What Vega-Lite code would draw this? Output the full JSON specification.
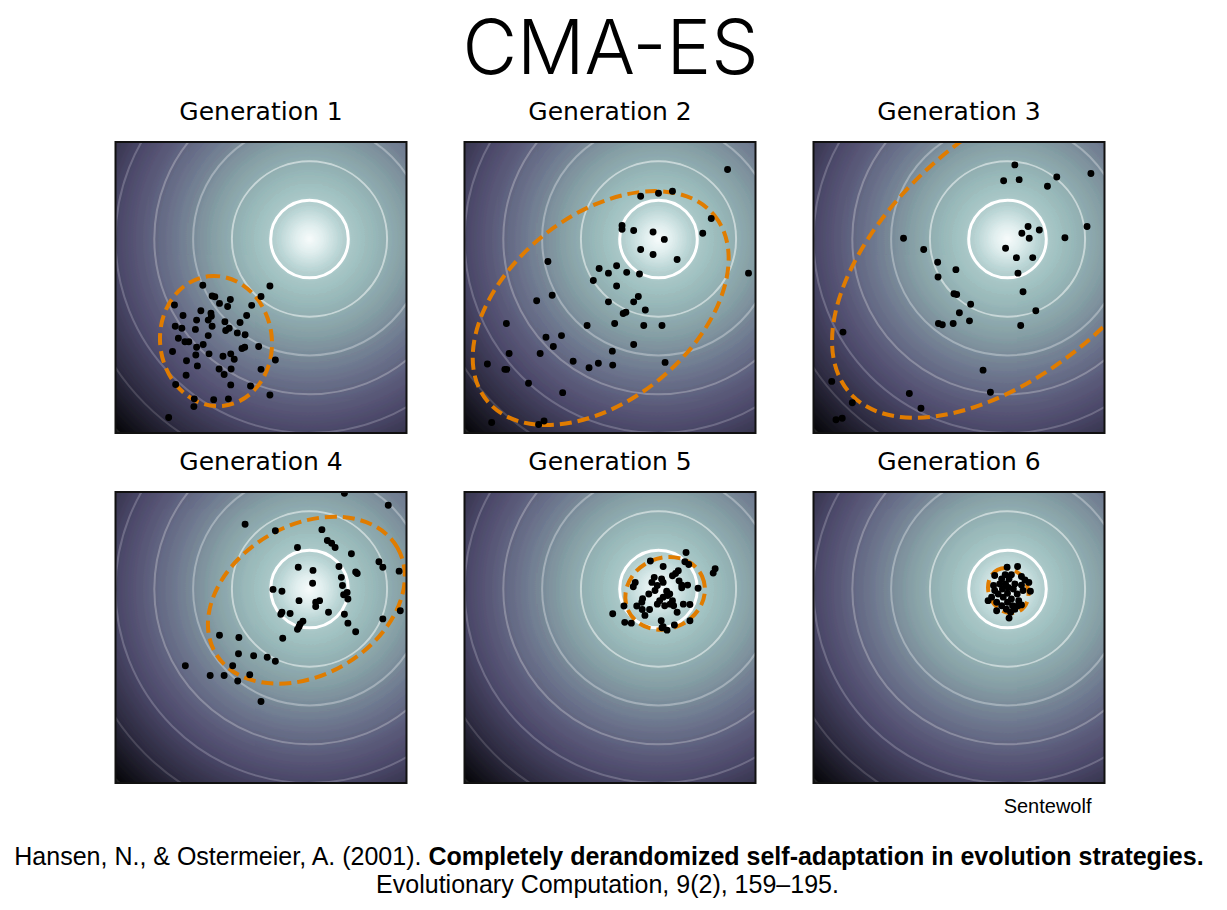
{
"$schema": "https://vega.github.io/schema/vega-lite/v6.json",
"autosize": {"type": "pad"},
"padding": {"left": 10, "top": 14, "right": 16, "bottom": 5},
"background": "white",
"title": {"text": "CMA-ES", "font": "Inter", "fontSize": 75, "fontWeight": 300, "anchor": "middle", "baseline": "alphabetic", "offset": -49, "color": "black"},
"datasets": {
"rings": [{"radius":1},{"radius":2},{"radius":3},{"radius":4},{"radius":5},{"radius":6},{"radius":7}],
"p1": [{"x":-2.75,"y":-1.19},{"x":-1.02,"y":-1.21},{"x":-1.25,"y":-1.48},{"x":-2.51,"y":-1.47},{"x":-2.44,"y":-1.49},{"x":-2.04,"y":-1.56},{"x":-2.32,"y":-1.66},{"x":-2.11,"y":-1.74},{"x":-3.48,"y":-1.70},{"x":-1.49,"y":-1.71},{"x":-2.80,"y":-1.85},{"x":-2.54,"y":-1.91},{"x":-3.26,"y":-1.97},{"x":-1.62,"y":-1.97},{"x":-2.53,"y":-1.99},{"x":-2.61,"y":-2.09},{"x":-2.91,"y":-2.09},{"x":-2.18,"y":-2.13},{"x":-1.79,"y":-2.15},{"x":-3.46,"y":-2.25},{"x":-3.29,"y":-2.30},{"x":-2.51,"y":-2.25},{"x":-2.94,"y":-2.33},{"x":-2.07,"y":-2.30},{"x":-2.16,"y":-2.36},{"x":-1.86,"y":-2.42},{"x":-1.66,"y":-2.47},{"x":-2.61,"y":-2.49},{"x":-3.38,"y":-2.56},{"x":-3.21,"y":-2.65},{"x":-3.11,"y":-2.65},{"x":-2.74,"y":-2.72},{"x":-2.91,"y":-2.79},{"x":-1.74,"y":-2.82},{"x":-1.67,"y":-2.79},{"x":-1.31,"y":-2.77},{"x":-3.53,"y":-2.90},{"x":-2.59,"y":-2.96},{"x":-2.93,"y":-2.99},{"x":-2.23,"y":-3.02},{"x":-2.03,"y":-2.96},{"x":-1.94,"y":-3.10},{"x":-0.88,"y":-3.12},{"x":-3.17,"y":-3.14},{"x":-2.89,"y":-3.27},{"x":-2.33,"y":-3.35},{"x":-2.02,"y":-3.35},{"x":-1.25,"y":-3.36},{"x":-2.20,"y":-3.49},{"x":-3.18,"y":-3.51},{"x":-3.45,"y":-3.75},{"x":-2.03,"y":-3.76},{"x":-1.52,"y":-3.79},{"x":-1.02,"y":-4.02},{"x":-2.97,"y":-4.12},{"x":-2.47,"y":-4.14},{"x":-2.09,"y":-4.12},{"x":-2.98,"y":-4.32},{"x":-3.63,"y":-4.60}],
"p2": [{"x":1.78,"y":1.79},{"x":-0.46,"y":1.10},{"x":0.00,"y":1.18},{"x":0.36,"y":1.23},{"x":1.36,"y":0.53},{"x":-0.94,"y":0.35},{"x":-0.94,"y":0.25},{"x":-0.64,"y":0.22},{"x":-0.14,"y":0.18},{"x":0.15,"y":-0.01},{"x":1.14,"y":0.15},{"x":-0.46,"y":-0.27},{"x":-0.14,"y":-0.40},{"x":0.48,"y":-0.53},{"x":-2.85,"y":-0.58},{"x":-1.53,"y":-0.76},{"x":-1.08,"y":-0.69},{"x":-1.29,"y":-0.88},{"x":-0.82,"y":-0.86},{"x":-0.49,"y":-0.90},{"x":2.32,"y":-0.88},{"x":-1.68,"y":-1.07},{"x":-1.08,"y":-1.21},{"x":-2.74,"y":-1.45},{"x":-3.14,"y":-1.59},{"x":-1.29,"y":-1.62},{"x":-0.52,"y":-1.48},{"x":-0.64,"y":-1.62},{"x":-0.34,"y":-1.83},{"x":-0.91,"y":-1.92},{"x":-0.84,"y":-1.89},{"x":-3.92,"y":-2.18},{"x":-1.84,"y":-2.23},{"x":-1.13,"y":-2.18},{"x":-0.38,"y":-2.23},{"x":0.09,"y":-2.23},{"x":-2.50,"y":-2.49},{"x":-2.90,"y":-2.53},{"x":-2.71,"y":-2.77},{"x":-0.64,"y":-2.72},{"x":-3.85,"y":-2.95},{"x":-3.05,"y":-2.95},{"x":-1.19,"y":-2.89},{"x":-4.41,"y":-3.22},{"x":-2.20,"y":-3.15},{"x":-1.55,"y":-3.20},{"x":-1.79,"y":-3.32},{"x":-1.18,"y":-3.25},{"x":0.17,"y":-3.18},{"x":-3.96,"y":-3.36},{"x":-3.91,"y":-3.36},{"x":-3.35,"y":-3.72},{"x":-2.47,"y":-3.96},{"x":-4.30,"y":-4.73},{"x":-3.09,"y":-4.78},{"x":-2.95,"y":-4.69}],
"p3": [{"x":0.19,"y":1.91},{"x":-0.10,"y":1.50},{"x":0.30,"y":1.53},{"x":1.27,"y":1.60},{"x":1.03,"y":1.36},{"x":2.15,"y":1.69},{"x":0.53,"y":0.32},{"x":0.37,"y":0.15},{"x":0.82,"y":0.23},{"x":0.56,"y":0.02},{"x":2.05,"y":0.32},{"x":1.48,"y":0.03},{"x":-2.68,"y":0.02},{"x":-2.16,"y":-0.27},{"x":-0.05,"y":-0.24},{"x":0.23,"y":-0.48},{"x":0.65,"y":-0.48},{"x":-1.80,"y":-0.60},{"x":-1.33,"y":-0.79},{"x":-1.79,"y":-0.98},{"x":0.27,"y":-0.88},{"x":0.40,"y":-1.36},{"x":-1.38,"y":-1.41},{"x":-1.31,"y":-1.43},{"x":-0.95,"y":-1.68},{"x":0.73,"y":-1.85},{"x":-1.24,"y":-1.90},{"x":-0.98,"y":-2.11},{"x":-1.78,"y":-2.18},{"x":-1.68,"y":-2.21},{"x":-1.40,"y":-2.18},{"x":0.34,"y":-2.23},{"x":-4.24,"y":-2.40},{"x":-0.63,"y":-3.38},{"x":-4.53,"y":-3.67},{"x":-2.53,"y":-3.98},{"x":-0.44,"y":-3.95},{"x":-4.00,"y":-4.22},{"x":-2.23,"y":-4.36},{"x":-4.42,"y":-4.66},{"x":-4.26,"y":-4.62}],
"p4": [{"x":0.90,"y":2.47},{"x":2.03,"y":2.16},{"x":-1.66,"y":1.67},{"x":-0.88,"y":1.50},{"x":0.32,"y":1.53},{"x":0.46,"y":1.25},{"x":0.57,"y":1.18},{"x":0.66,"y":1.07},{"x":-0.31,"y":1.07},{"x":1.08,"y":0.91},{"x":1.79,"y":0.70},{"x":1.89,"y":0.56},{"x":2.31,"y":0.46},{"x":-0.29,"y":0.56},{"x":0.09,"y":0.48},{"x":0.76,"y":0.58},{"x":1.19,"y":0.44},{"x":1.23,"y":0.40},{"x":0.82,"y":0.30},{"x":0.08,"y":0.15},{"x":0.85,"y":0.09},{"x":-0.94,"y":-0.01},{"x":-0.71,"y":-0.06},{"x":0.97,"y":-0.09},{"x":0.88,"y":-0.15},{"x":0.99,"y":-0.26},{"x":-0.27,"y":-0.30},{"x":0.16,"y":-0.34},{"x":0.26,"y":-0.30},{"x":0.16,"y":-0.45},{"x":0.49,"y":-0.60},{"x":2.34,"y":-0.56},{"x":-0.71,"y":-0.60},{"x":-0.74,"y":-0.65},{"x":-0.50,"y":-0.63},{"x":0.90,"y":-0.65},{"x":1.89,"y":-0.77},{"x":-0.17,"y":-0.83},{"x":-0.24,"y":-0.90},{"x":-0.27,"y":-0.97},{"x":-0.31,"y":-1.04},{"x":0.99,"y":-0.88},{"x":1.19,"y":-1.10},{"x":-2.32,"y":-1.19},{"x":-1.82,"y":-1.25},{"x":-0.69,"y":-1.27},{"x":-1.83,"y":-1.67},{"x":-1.44,"y":-1.72},{"x":-1.09,"y":-1.76},{"x":-0.88,"y":-1.86},{"x":-3.20,"y":-1.98},{"x":-1.98,"y":-1.98},{"x":-2.56,"y":-2.23},{"x":-2.20,"y":-2.23},{"x":-1.54,"y":-2.21},{"x":-1.85,"y":-2.37},{"x":-1.25,"y":-2.90}],
"p5": [{"x":0.71,"y":0.94},{"x":-0.21,"y":0.72},{"x":0.68,"y":0.70},{"x":0.78,"y":0.63},{"x":0.12,"y":0.58},{"x":1.46,"y":0.52},{"x":1.41,"y":0.41},{"x":0.51,"y":0.47},{"x":0.44,"y":0.40},{"x":0.36,"y":0.34},{"x":-0.60,"y":0.17},{"x":-0.65,"y":0.06},{"x":-0.11,"y":0.30},{"x":0.08,"y":0.26},{"x":-0.17,"y":0.17},{"x":0.12,"y":0.17},{"x":-0.03,"y":0.09},{"x":0.53,"y":0.21},{"x":0.60,"y":0.10},{"x":0.75,"y":0.10},{"x":0.60,"y":0.03},{"x":1.02,"y":0.02},{"x":-0.09,"y":-0.04},{"x":-0.25,"y":-0.13},{"x":0.21,"y":-0.06},{"x":0.29,"y":-0.13},{"x":0.24,"y":-0.17},{"x":0.12,"y":-0.21},{"x":-0.41,"y":-0.25},{"x":-0.43,"y":-0.34},{"x":0.03,"y":-0.30},{"x":-0.03,"y":-0.39},{"x":0.36,"y":-0.30},{"x":0.30,"y":-0.39},{"x":0.39,"y":-0.43},{"x":0.16,"y":-0.43},{"x":0.64,"y":-0.39},{"x":0.81,"y":-0.40},{"x":-0.89,"y":-0.44},{"x":-0.56,"y":-0.44},{"x":-0.42,"y":-0.53},{"x":-0.23,"y":-0.53},{"x":-0.35,"y":-0.68},{"x":0.48,"y":-0.60},{"x":-1.18,"y":-0.64},{"x":-0.87,"y":-0.86},{"x":-0.70,"y":-0.88},{"x":0.07,"y":-0.82},{"x":0.81,"y":-0.82},{"x":0.41,"y":-0.93},{"x":0.12,"y":-0.97},{"x":0.22,"y":-1.06},{"x":0.09,"y":-1.00}],
"p6": [{"x":-0.01,"y":0.56},{"x":0.26,"y":0.58},{"x":-0.33,"y":0.35},{"x":-0.06,"y":0.37},{"x":0.10,"y":0.37},{"x":0.36,"y":0.32},{"x":-0.15,"y":0.26},{"x":0.04,"y":0.26},{"x":0.45,"y":0.23},{"x":0.55,"y":0.17},{"x":-0.36,"y":0.09},{"x":-0.20,"y":0.13},{"x":-0.05,"y":0.13},{"x":0.19,"y":0.13},{"x":0.36,"y":0.10},{"x":0.02,"y":0.04},{"x":0.15,"y":0.00},{"x":-0.33,"y":-0.04},{"x":-0.13,"y":0.00},{"x":0.40,"y":-0.04},{"x":0.59,"y":-0.06},{"x":-0.24,"y":-0.13},{"x":0.00,"y":-0.11},{"x":0.25,"y":-0.13},{"x":-0.41,"y":-0.21},{"x":-0.11,"y":-0.21},{"x":0.10,"y":-0.26},{"x":-0.50,"y":-0.30},{"x":-0.28,"y":-0.34},{"x":0.00,"y":-0.34},{"x":0.29,"y":-0.30},{"x":-0.15,"y":-0.43},{"x":0.13,"y":-0.43},{"x":0.27,"y":-0.43},{"x":-0.03,"y":-0.52},{"x":-0.28,"y":-0.56},{"x":0.08,"y":-0.60},{"x":0.04,"y":-0.75},{"x":0.36,"y":-0.41},{"x":0.19,"y":-0.52}]
},
"vconcat": [
{"hconcat": [
{"width": 291, "height": 291, "title": "Generation 1", "layer": [
{"data": {"values": [{}]}, "mark": {"type": "rect", "fill": {"gradient":"radial","x1":0.6667,"y1":0.3333,"r1":0,"x2":0.6667,"y2":0.3333,"r2":0.943,"stops":[{"offset":0,"color":"#f7fbfb"},{"offset":0.05,"color":"#e0eeee"},{"offset":0.11,"color":"#bcd6d6"},{"offset":0.16,"color":"#a8c6c6"},{"offset":0.21,"color":"#9ebebe"},{"offset":0.354,"color":"#87a0a6"},{"offset":0.495,"color":"#6f788f"},{"offset":0.636,"color":"#585676"},{"offset":0.707,"color":"#4b4868"},{"offset":0.85,"color":"#2c2a3e"},{"offset":1,"color":"#060608"}]}},
 "encoding": {"x": {"datum": -5, "type": "quantitative", "scale": {"domain": [-5, 2.5], "nice": false, "zero": false}, "axis": null}, "x2": {"datum": 2.5}, "y": {"datum": -5, "type": "quantitative", "scale": {"domain": [-5, 2.5], "nice": false, "zero": false}, "axis": null}, "y2": {"datum": 2.5}}},
{"data": {"name": "rings"}, "mark": {"type": "point", "shape": "circle", "filled": false, "stroke": "white", "clip": true},
 "encoding": {"x": {"datum": 0, "type": "quantitative"}, "y": {"datum": 0, "type": "quantitative"}, "size": {"field": "radius", "type": "quantitative", "scale": {"type": "pow", "exponent": 2, "domain": [0, 7], "range": [0, 295066]}, "legend": null}, "opacity": {"field": "radius", "type": "quantitative", "scale": {"domain": [1, 2, 3, 7], "range": [1, 0.5, 0.3, 0.1]}, "legend": null}, "strokeWidth": {"field": "radius", "type": "quantitative", "scale": {"type": "threshold", "domain": [1.5], "range": [3, 2]}, "legend": null}}},
{"data": {"values": [{"cx": -2.41, "cy": -2.63, "radius": 1.68, "angle": 97}]}, "mark": {"type": "point", "shape": "M 1 0 C 1 0.473 0.552 0.857 0 0.857 C -0.552 0.857 -1 0.473 -1 0 C -1 -0.473 -0.552 -0.857 0 -0.857 C 0.552 -0.857 1 -0.473 1 0 Z", "filled": false, "stroke": "#e07c00", "strokeWidth": 4, "strokeDash": [12, 6], "opacity": 1, "clip": true},
 "encoding": {"x": {"field": "cx", "type": "quantitative"}, "y": {"field": "cy", "type": "quantitative"}, "size": {"field": "radius", "type": "quantitative", "scale": {"type": "pow", "exponent": 2, "domain": [0, 7], "range": [0, 295066]}, "legend": null}, "angle": {"field": "angle", "type": "quantitative", "scale": {"domain": [0, 360], "range": [360, 0]}, "legend": null}}},
{"data": {"name": "p1"}, "mark": {"type": "point", "shape": "circle", "filled": true, "color": "black", "size": 48, "opacity": 1, "clip": true},
 "encoding": {"x": {"field": "x", "type": "quantitative"}, "y": {"field": "y", "type": "quantitative"}}},
{"data": {"values": [{}]}, "mark": {"type": "rect", "fill": null, "stroke": "#111111", "strokeWidth": 2},
 "encoding": {"x": {"datum": -5, "type": "quantitative"}, "x2": {"datum": 2.5}, "y": {"datum": -5, "type": "quantitative"}, "y2": {"datum": 2.5}}}
]},
{"width": 291, "height": 291, "title": "Generation 2", "layer": [
{"data": {"values": [{}]}, "mark": {"type": "rect", "fill": {"gradient":"radial","x1":0.6667,"y1":0.3333,"r1":0,"x2":0.6667,"y2":0.3333,"r2":0.943,"stops":[{"offset":0,"color":"#f7fbfb"},{"offset":0.05,"color":"#e0eeee"},{"offset":0.11,"color":"#bcd6d6"},{"offset":0.16,"color":"#a8c6c6"},{"offset":0.21,"color":"#9ebebe"},{"offset":0.354,"color":"#87a0a6"},{"offset":0.495,"color":"#6f788f"},{"offset":0.636,"color":"#585676"},{"offset":0.707,"color":"#4b4868"},{"offset":0.85,"color":"#2c2a3e"},{"offset":1,"color":"#060608"}]}},
 "encoding": {"x": {"datum": -5, "type": "quantitative", "scale": {"domain": [-5, 2.5], "nice": false, "zero": false}, "axis": null}, "x2": {"datum": 2.5}, "y": {"datum": -5, "type": "quantitative", "scale": {"domain": [-5, 2.5], "nice": false, "zero": false}, "axis": null}, "y2": {"datum": 2.5}}},
{"data": {"name": "rings"}, "mark": {"type": "point", "shape": "circle", "filled": false, "stroke": "white", "clip": true},
 "encoding": {"x": {"datum": 0, "type": "quantitative"}, "y": {"datum": 0, "type": "quantitative"}, "size": {"field": "radius", "type": "quantitative", "scale": {"type": "pow", "exponent": 2, "domain": [0, 7], "range": [0, 295066]}, "legend": null}, "opacity": {"field": "radius", "type": "quantitative", "scale": {"domain": [1, 2, 3, 7], "range": [1, 0.5, 0.3, 0.1]}, "legend": null}, "strokeWidth": {"field": "radius", "type": "quantitative", "scale": {"type": "threshold", "domain": [1.5], "range": [3, 2]}, "legend": null}}},
{"data": {"values": [{"cx": -1.49, "cy": -1.78, "radius": 3.78, "angle": 39}]}, "mark": {"type": "point", "shape": "M 1 0 C 1 0.348 0.552 0.63 0 0.63 C -0.552 0.63 -1 0.348 -1 0 C -1 -0.348 -0.552 -0.63 0 -0.63 C 0.552 -0.63 1 -0.348 1 0 Z", "filled": false, "stroke": "#e07c00", "strokeWidth": 4, "strokeDash": [12, 6], "opacity": 1, "clip": true},
 "encoding": {"x": {"field": "cx", "type": "quantitative"}, "y": {"field": "cy", "type": "quantitative"}, "size": {"field": "radius", "type": "quantitative", "scale": {"type": "pow", "exponent": 2, "domain": [0, 7], "range": [0, 295066]}, "legend": null}, "angle": {"field": "angle", "type": "quantitative", "scale": {"domain": [0, 360], "range": [360, 0]}, "legend": null}}},
{"data": {"name": "p2"}, "mark": {"type": "point", "shape": "circle", "filled": true, "color": "black", "size": 48, "opacity": 1, "clip": true},
 "encoding": {"x": {"field": "x", "type": "quantitative"}, "y": {"field": "y", "type": "quantitative"}}},
{"data": {"values": [{}]}, "mark": {"type": "rect", "fill": null, "stroke": "#111111", "strokeWidth": 2},
 "encoding": {"x": {"datum": -5, "type": "quantitative"}, "x2": {"datum": 2.5}, "y": {"datum": -5, "type": "quantitative"}, "y2": {"datum": 2.5}}}
]},
{"width": 291, "height": 291, "title": "Generation 3", "layer": [
{"data": {"values": [{}]}, "mark": {"type": "rect", "fill": {"gradient":"radial","x1":0.6667,"y1":0.3333,"r1":0,"x2":0.6667,"y2":0.3333,"r2":0.943,"stops":[{"offset":0,"color":"#f7fbfb"},{"offset":0.05,"color":"#e0eeee"},{"offset":0.11,"color":"#bcd6d6"},{"offset":0.16,"color":"#a8c6c6"},{"offset":0.21,"color":"#9ebebe"},{"offset":0.354,"color":"#87a0a6"},{"offset":0.495,"color":"#6f788f"},{"offset":0.636,"color":"#585676"},{"offset":0.707,"color":"#4b4868"},{"offset":0.85,"color":"#2c2a3e"},{"offset":1,"color":"#060608"}]}},
 "encoding": {"x": {"datum": -5, "type": "quantitative", "scale": {"domain": [-5, 2.5], "nice": false, "zero": false}, "axis": null}, "x2": {"datum": 2.5}, "y": {"datum": -5, "type": "quantitative", "scale": {"domain": [-5, 2.5], "nice": false, "zero": false}, "axis": null}, "y2": {"datum": 2.5}}},
{"data": {"name": "rings"}, "mark": {"type": "point", "shape": "circle", "filled": false, "stroke": "white", "clip": true},
 "encoding": {"x": {"datum": 0, "type": "quantitative"}, "y": {"datum": 0, "type": "quantitative"}, "size": {"field": "radius", "type": "quantitative", "scale": {"type": "pow", "exponent": 2, "domain": [0, 7], "range": [0, 295066]}, "legend": null}, "opacity": {"field": "radius", "type": "quantitative", "scale": {"domain": [1, 2, 3, 7], "range": [1, 0.5, 0.3, 0.1]}, "legend": null}, "strokeWidth": {"field": "radius", "type": "quantitative", "scale": {"type": "threshold", "domain": [1.5], "range": [3, 2]}, "legend": null}}},
{"data": {"values": [{"cx": 0.15, "cy": -0.28, "radius": 5.6, "angle": 41}]}, "mark": {"type": "point", "shape": "M 1 0 C 1 0.299 0.552 0.541 0 0.541 C -0.552 0.541 -1 0.299 -1 0 C -1 -0.299 -0.552 -0.541 0 -0.541 C 0.552 -0.541 1 -0.299 1 0 Z", "filled": false, "stroke": "#e07c00", "strokeWidth": 4, "strokeDash": [12, 6], "opacity": 1, "clip": true},
 "encoding": {"x": {"field": "cx", "type": "quantitative"}, "y": {"field": "cy", "type": "quantitative"}, "size": {"field": "radius", "type": "quantitative", "scale": {"type": "pow", "exponent": 2, "domain": [0, 7], "range": [0, 295066]}, "legend": null}, "angle": {"field": "angle", "type": "quantitative", "scale": {"domain": [0, 360], "range": [360, 0]}, "legend": null}}},
{"data": {"name": "p3"}, "mark": {"type": "point", "shape": "circle", "filled": true, "color": "black", "size": 48, "opacity": 1, "clip": true},
 "encoding": {"x": {"field": "x", "type": "quantitative"}, "y": {"field": "y", "type": "quantitative"}}},
{"data": {"values": [{}]}, "mark": {"type": "rect", "fill": null, "stroke": "#111111", "strokeWidth": 2},
 "encoding": {"x": {"datum": -5, "type": "quantitative"}, "x2": {"datum": 2.5}, "y": {"datum": -5, "type": "quantitative"}, "y2": {"datum": 2.5}}}
]}
], "spacing": 56},
{"hconcat": [
{"width": 291, "height": 291, "title": "Generation 4", "layer": [
{"data": {"values": [{}]}, "mark": {"type": "rect", "fill": {"gradient":"radial","x1":0.6667,"y1":0.3333,"r1":0,"x2":0.6667,"y2":0.3333,"r2":0.943,"stops":[{"offset":0,"color":"#f7fbfb"},{"offset":0.05,"color":"#e0eeee"},{"offset":0.11,"color":"#bcd6d6"},{"offset":0.16,"color":"#a8c6c6"},{"offset":0.21,"color":"#9ebebe"},{"offset":0.354,"color":"#87a0a6"},{"offset":0.495,"color":"#6f788f"},{"offset":0.636,"color":"#585676"},{"offset":0.707,"color":"#4b4868"},{"offset":0.85,"color":"#2c2a3e"},{"offset":1,"color":"#060608"}]}},
 "encoding": {"x": {"datum": -5, "type": "quantitative", "scale": {"domain": [-5, 2.5], "nice": false, "zero": false}, "axis": null}, "x2": {"datum": 2.5}, "y": {"datum": -5, "type": "quantitative", "scale": {"domain": [-5, 2.5], "nice": false, "zero": false}, "axis": null}, "y2": {"datum": 2.5}}},
{"data": {"name": "rings"}, "mark": {"type": "point", "shape": "circle", "filled": false, "stroke": "white", "clip": true},
 "encoding": {"x": {"datum": 0, "type": "quantitative"}, "y": {"datum": 0, "type": "quantitative"}, "size": {"field": "radius", "type": "quantitative", "scale": {"type": "pow", "exponent": 2, "domain": [0, 7], "range": [0, 295066]}, "legend": null}, "opacity": {"field": "radius", "type": "quantitative", "scale": {"domain": [1, 2, 3, 7], "range": [1, 0.5, 0.3, 0.1]}, "legend": null}, "strokeWidth": {"field": "radius", "type": "quantitative", "scale": {"type": "threshold", "domain": [1.5], "range": [3, 2]}, "legend": null}}},
{"data": {"values": [{"cx": -0.08, "cy": -0.29, "radius": 2.71, "angle": 30}]}, "mark": {"type": "point", "shape": "M 1 0 C 1 0.393 0.552 0.712 0 0.712 C -0.552 0.712 -1 0.393 -1 0 C -1 -0.393 -0.552 -0.712 0 -0.712 C 0.552 -0.712 1 -0.393 1 0 Z", "filled": false, "stroke": "#e07c00", "strokeWidth": 4, "strokeDash": [12, 6], "opacity": 1, "clip": true},
 "encoding": {"x": {"field": "cx", "type": "quantitative"}, "y": {"field": "cy", "type": "quantitative"}, "size": {"field": "radius", "type": "quantitative", "scale": {"type": "pow", "exponent": 2, "domain": [0, 7], "range": [0, 295066]}, "legend": null}, "angle": {"field": "angle", "type": "quantitative", "scale": {"domain": [0, 360], "range": [360, 0]}, "legend": null}}},
{"data": {"name": "p4"}, "mark": {"type": "point", "shape": "circle", "filled": true, "color": "black", "size": 48, "opacity": 1, "clip": true},
 "encoding": {"x": {"field": "x", "type": "quantitative"}, "y": {"field": "y", "type": "quantitative"}}},
{"data": {"values": [{}]}, "mark": {"type": "rect", "fill": null, "stroke": "#111111", "strokeWidth": 2},
 "encoding": {"x": {"datum": -5, "type": "quantitative"}, "x2": {"datum": 2.5}, "y": {"datum": -5, "type": "quantitative"}, "y2": {"datum": 2.5}}}
]},
{"width": 291, "height": 291, "title": "Generation 5", "layer": [
{"data": {"values": [{}]}, "mark": {"type": "rect", "fill": {"gradient":"radial","x1":0.6667,"y1":0.3333,"r1":0,"x2":0.6667,"y2":0.3333,"r2":0.943,"stops":[{"offset":0,"color":"#f7fbfb"},{"offset":0.05,"color":"#e0eeee"},{"offset":0.11,"color":"#bcd6d6"},{"offset":0.16,"color":"#a8c6c6"},{"offset":0.21,"color":"#9ebebe"},{"offset":0.354,"color":"#87a0a6"},{"offset":0.495,"color":"#6f788f"},{"offset":0.636,"color":"#585676"},{"offset":0.707,"color":"#4b4868"},{"offset":0.85,"color":"#2c2a3e"},{"offset":1,"color":"#060608"}]}},
 "encoding": {"x": {"datum": -5, "type": "quantitative", "scale": {"domain": [-5, 2.5], "nice": false, "zero": false}, "axis": null}, "x2": {"datum": 2.5}, "y": {"datum": -5, "type": "quantitative", "scale": {"domain": [-5, 2.5], "nice": false, "zero": false}, "axis": null}, "y2": {"datum": 2.5}}},
{"data": {"name": "rings"}, "mark": {"type": "point", "shape": "circle", "filled": false, "stroke": "white", "clip": true},
 "encoding": {"x": {"datum": 0, "type": "quantitative"}, "y": {"datum": 0, "type": "quantitative"}, "size": {"field": "radius", "type": "quantitative", "scale": {"type": "pow", "exponent": 2, "domain": [0, 7], "range": [0, 295066]}, "legend": null}, "opacity": {"field": "radius", "type": "quantitative", "scale": {"domain": [1, 2, 3, 7], "range": [1, 0.5, 0.3, 0.1]}, "legend": null}, "strokeWidth": {"field": "radius", "type": "quantitative", "scale": {"type": "threshold", "domain": [1.5], "range": [3, 2]}, "legend": null}}},
{"data": {"values": [{"cx": 0.17, "cy": -0.11, "radius": 1.05, "angle": 25}]}, "mark": {"type": "point", "shape": "M 1 0 C 1 0.479 0.552 0.867 0 0.867 C -0.552 0.867 -1 0.479 -1 0 C -1 -0.479 -0.552 -0.867 0 -0.867 C 0.552 -0.867 1 -0.479 1 0 Z", "filled": false, "stroke": "#e07c00", "strokeWidth": 4, "strokeDash": [12, 6], "opacity": 1, "clip": true},
 "encoding": {"x": {"field": "cx", "type": "quantitative"}, "y": {"field": "cy", "type": "quantitative"}, "size": {"field": "radius", "type": "quantitative", "scale": {"type": "pow", "exponent": 2, "domain": [0, 7], "range": [0, 295066]}, "legend": null}, "angle": {"field": "angle", "type": "quantitative", "scale": {"domain": [0, 360], "range": [360, 0]}, "legend": null}}},
{"data": {"name": "p5"}, "mark": {"type": "point", "shape": "circle", "filled": true, "color": "black", "size": 48, "opacity": 1, "clip": true},
 "encoding": {"x": {"field": "x", "type": "quantitative"}, "y": {"field": "y", "type": "quantitative"}}},
{"data": {"values": [{}]}, "mark": {"type": "rect", "fill": null, "stroke": "#111111", "strokeWidth": 2},
 "encoding": {"x": {"datum": -5, "type": "quantitative"}, "x2": {"datum": 2.5}, "y": {"datum": -5, "type": "quantitative"}, "y2": {"datum": 2.5}}}
]},
{"width": 291, "height": 291, "title": "Generation 6", "layer": [
{"data": {"values": [{}]}, "mark": {"type": "rect", "fill": {"gradient":"radial","x1":0.6667,"y1":0.3333,"r1":0,"x2":0.6667,"y2":0.3333,"r2":0.943,"stops":[{"offset":0,"color":"#f7fbfb"},{"offset":0.05,"color":"#e0eeee"},{"offset":0.11,"color":"#bcd6d6"},{"offset":0.16,"color":"#a8c6c6"},{"offset":0.21,"color":"#9ebebe"},{"offset":0.354,"color":"#87a0a6"},{"offset":0.495,"color":"#6f788f"},{"offset":0.636,"color":"#585676"},{"offset":0.707,"color":"#4b4868"},{"offset":0.85,"color":"#2c2a3e"},{"offset":1,"color":"#060608"}]}},
 "encoding": {"x": {"datum": -5, "type": "quantitative", "scale": {"domain": [-5, 2.5], "nice": false, "zero": false}, "axis": null}, "x2": {"datum": 2.5}, "y": {"datum": -5, "type": "quantitative", "scale": {"domain": [-5, 2.5], "nice": false, "zero": false}, "axis": null}, "y2": {"datum": 2.5}}},
{"data": {"name": "rings"}, "mark": {"type": "point", "shape": "circle", "filled": false, "stroke": "white", "clip": true},
 "encoding": {"x": {"datum": 0, "type": "quantitative"}, "y": {"datum": 0, "type": "quantitative"}, "size": {"field": "radius", "type": "quantitative", "scale": {"type": "pow", "exponent": 2, "domain": [0, 7], "range": [0, 295066]}, "legend": null}, "opacity": {"field": "radius", "type": "quantitative", "scale": {"domain": [1, 2, 3, 7], "range": [1, 0.5, 0.3, 0.1]}, "legend": null}, "strokeWidth": {"field": "radius", "type": "quantitative", "scale": {"type": "threshold", "domain": [1.5], "range": [3, 2]}, "legend": null}}},
{"data": {"values": [{"cx": 0.02, "cy": -0.04, "radius": 0.6, "angle": 117}]}, "mark": {"type": "point", "shape": "M 1 0 C 1 0.46 0.552 0.833 0 0.833 C -0.552 0.833 -1 0.46 -1 0 C -1 -0.46 -0.552 -0.833 0 -0.833 C 0.552 -0.833 1 -0.46 1 0 Z", "filled": false, "stroke": "#e07c00", "strokeWidth": 4, "strokeDash": [12, 6], "opacity": 1, "clip": true},
 "encoding": {"x": {"field": "cx", "type": "quantitative"}, "y": {"field": "cy", "type": "quantitative"}, "size": {"field": "radius", "type": "quantitative", "scale": {"type": "pow", "exponent": 2, "domain": [0, 7], "range": [0, 295066]}, "legend": null}, "angle": {"field": "angle", "type": "quantitative", "scale": {"domain": [0, 360], "range": [360, 0]}, "legend": null}}},
{"data": {"name": "p6"}, "mark": {"type": "point", "shape": "circle", "filled": true, "color": "black", "size": 48, "opacity": 1, "clip": true},
 "encoding": {"x": {"field": "x", "type": "quantitative"}, "y": {"field": "y", "type": "quantitative"}}},
{"data": {"values": [{}]}, "mark": {"type": "rect", "fill": null, "stroke": "#111111", "strokeWidth": 2},
 "encoding": {"x": {"datum": -5, "type": "quantitative"}, "x2": {"datum": 2.5}, "y": {"datum": -5, "type": "quantitative"}, "y2": {"datum": 2.5}}}
]}
], "spacing": 56, "title": {"text": "Sentewolf", "orient": "bottom", "anchor": "end", "font": "Liberation Sans", "fontSize": 20, "fontWeight": "normal", "baseline": "alphabetic", "offset": 29, "dx": -14, "color": "black"}},
{"width": 1201, "height": 70, "layer": [
{"data": {"values": [{"label": "Hansen, N., & Ostermeier, A. (2001)."}]}, "mark": {"type": "text", "font": "Liberation Sans", "fontSize": 25, "align": "right", "baseline": "alphabetic", "dx": -3.5, "color": "black"},
 "encoding": {"text": {"field": "label"}, "x": {"datum": 0.3455, "type": "quantitative", "scale": {"domain": [0, 1]}, "axis": null}, "y": {"datum": 0.543, "type": "quantitative", "scale": {"domain": [0, 1]}, "axis": null}}},
{"data": {"values": [{"label": "Completely derandomized self-adaptation in evolution strategies."}]}, "mark": {"type": "text", "font": "Liberation Sans", "fontSize": 25, "fontWeight": "bold", "align": "left", "baseline": "alphabetic", "dx": 3.5, "color": "black"},
 "encoding": {"text": {"field": "label"}, "x": {"datum": 0.3455, "type": "quantitative"}, "y": {"datum": 0.543, "type": "quantitative"}}},
{"data": {"values": [{"label": "Evolutionary Computation, 9(2), 159–195."}]}, "mark": {"type": "text", "font": "Liberation Sans", "fontSize": 25, "align": "center", "baseline": "alphabetic", "color": "black"},
 "encoding": {"text": {"field": "label"}, "x": {"datum": 0.4975, "type": "quantitative"}, "y": {"datum": 0.143, "type": "quantitative"}}}
]}
],
"spacing": 16,
"center": true,
"config": {
 "view": {"stroke": null},
 "title": {"font": "DejaVu Sans", "fontSize": 25, "fontWeight": "normal", "baseline": "alphabetic", "offset": 16, "anchor": "middle", "color": "black"}
}
}
